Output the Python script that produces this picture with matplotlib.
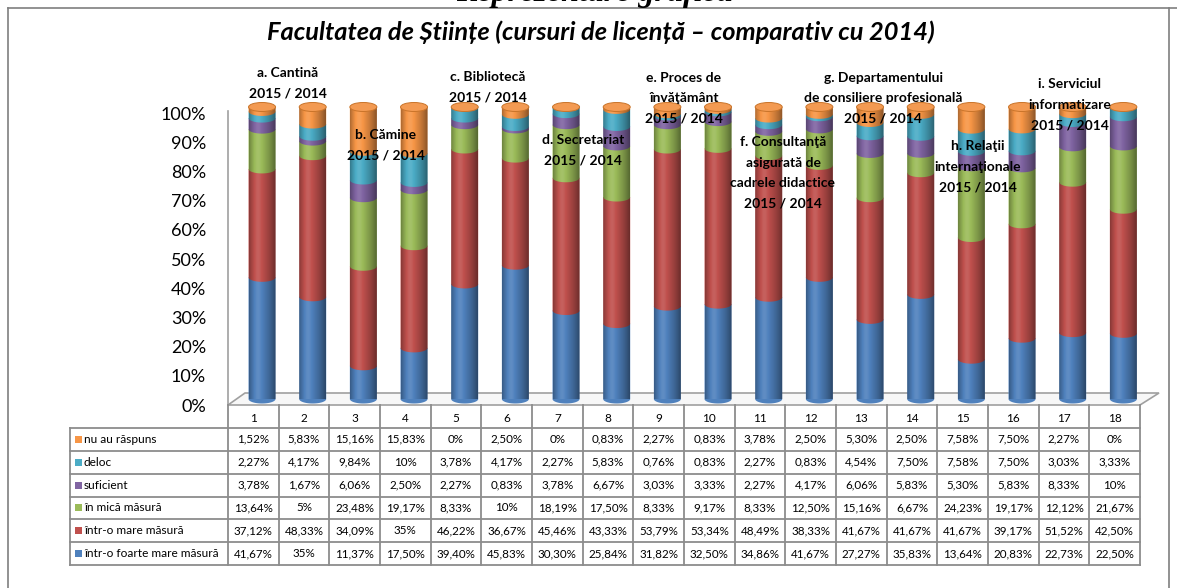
import numpy as np
import matplotlib
matplotlib.use("Agg")
import matplotlib.pyplot as plt
from matplotlib.patches import Polygon, Ellipse, Rectangle
from matplotlib.lines import Line2D
from matplotlib.transforms import ScaledTranslation

plt.rcParams['font.family'] = ['Lato', 'DejaVu Sans']

# ---------------- data ----------------
columns = [str(i) for i in range(1, 19)]
series_labels = ["nu au răspuns", "deloc", "suficient", "în mică măsură",
                 "într-o mare măsură", "într-o foarte mare măsură"]
nu_au_raspuns = [1.52, 5.83, 15.16, 15.83, 0, 2.50, 0, 0.83, 2.27, 0.83, 3.78, 2.50, 5.30, 2.50, 7.58, 7.50, 2.27, 0]
deloc = [2.27, 4.17, 9.84, 10, 3.78, 4.17, 2.27, 5.83, 0.76, 0.83, 2.27, 0.83, 4.54, 7.50, 7.58, 7.50, 3.03, 3.33]
suficient = [3.78, 1.67, 6.06, 2.50, 2.27, 0.83, 3.78, 6.67, 3.03, 3.33, 2.27, 4.17, 6.06, 5.83, 5.30, 5.83, 8.33, 10]
in_mica_masura = [13.64, 5, 23.48, 19.17, 8.33, 10, 18.19, 17.50, 8.33, 9.17, 8.33, 12.50, 15.16, 6.67, 24.23, 19.17, 12.12, 21.67]
intr_o_mare_masura = [37.12, 48.33, 34.09, 35, 46.22, 36.67, 45.46, 43.33, 53.79, 53.34, 48.49, 38.33, 41.67, 41.67, 41.67, 39.17, 51.52, 42.50]
intr_o_foarte_mare = [41.67, 35, 11.37, 17.50, 39.40, 45.83, 30.30, 25.84, 31.82, 32.50, 34.86, 41.67, 27.27, 35.83, 13.64, 20.83, 22.73, 22.50]
ytick_values = [0, 10, 20, 30, 40, 50, 60, 70, 80, 90, 100]

title = "Facultatea de Științe (cursuri de licență – comparativ cu 2014)"
page_heading = "Reprezentare grafică"
annotations = [
    ("a. Cantină\n2015 / 2014", 288, 83),
    ("b. Cămine\n2015 / 2014", 386, 145),
    ("c. Bibliotecă\n2015 / 2014", 488, 87),
    ("d. Secretariat\n2015 / 2014", 583, 150),
    ("e. Proces de\nînvăţământ\n2015 / 2014", 684, 98),
    ("f. Consultanţă\nasigurată de\ncadrele didactice\n2015 / 2014", 783, 173),
    ("g. Departamentului\nde consiliere profesională\n2015 / 2014", 883, 98),
    ("h. Relaţii\ninternaţionale\n2015 / 2014", 978, 167),
    ("i. Serviciul\ninformatizare\n2015 / 2014", 1070, 105),
]

# stacking bottom -> top
stack = [intr_o_foarte_mare, intr_o_mare_masura, in_mica_masura, suficient, deloc, nu_au_raspuns]
colors = ['#4F81BD', '#C0504D', '#9BBB59', '#8064A2', '#4BACC6', '#F79646']
# table rows top -> bottom
table_rows = [nu_au_raspuns, deloc, suficient, in_mica_masura, intr_o_mare_masura, intr_o_foarte_mare]
row_colors = ['#F79646', '#4BACC6', '#8064A2', '#9BBB59', '#C0504D', '#4F81BD']

W, H = 1177, 588
fig = plt.figure(figsize=(W / 100, H / 100), dpi=100)


def fx(px):
    return px / W


def fy(py):
    return 1 - py / H


GRID = '#8c8c8c'

# ---------------- frame ----------------
fig.add_artist(Line2D([fx(8), fx(1177)], [fy(8), fy(8)], color='#7f7f7f', lw=1.2))
fig.add_artist(Line2D([fx(8), fx(8)], [fy(8), fy(588)], color='#7f7f7f', lw=1.2))
fig.add_artist(Line2D([fx(1169), fx(1169)], [fy(8), fy(588)], color='#7f7f7f', lw=1.2))
fig.text(fx(594), fy(0.5), page_heading, family='Liberation Serif', weight='bold',
         style='italic', fontsize=23, ha='center', va='baseline')
fig.text(fx(601), fy(32), title, fontsize=18.3, weight='bold', style='italic',
         ha='center', va='center')

# ---------------- axes ----------------
x_left, x_right = 228, 1140
y0_px, y100_px = 399, 107
ax = fig.add_axes([fx(x_left), fy(y0_px), (x_right - x_left) / W, (y0_px - y100_px) / H])
ax.patch.set_visible(False)
for s in ax.spines.values():
    s.set_visible(False)
ax.set_xticks([])

n = len(columns)
px_per_unit_y = (y0_px - y100_px) / 100.0
eh = 9 / px_per_unit_y           # ellipse height (data units)
bw = 27 / ((x_right - x_left) / n)  # bar width in data units
xoff = 0.5 + 8.7 / ((x_right - x_left) / n)

# gradient for the cylinders
t = np.linspace(0, 1, 80)
dark = np.where(t < 0.35, 0.30 * ((0.35 - t) / 0.35) ** 2, 0.45 * ((t - 0.35) / 0.65) ** 1.6)
high = 0.10 * np.exp(-((t - 0.33) / 0.14) ** 2)
val = high - dark
grad = np.zeros((1, len(t), 4))
grad[0, :, :3] = np.where(val[:, None] > 0, 1.0, 0.0)
grad[0, :, 3] = np.abs(val)

for i in range(n):
    xc = i + xoff
    x0, x1 = xc - bw / 2, xc + bw / 2
    bottom = 0.0
    z = 2
    for k, ser in enumerate(stack):
        v = ser[i]
        top = bottom + v
        th = np.linspace(0, -np.pi, 40)
        arc = np.column_stack([xc + bw / 2 * np.cos(th), bottom + eh / 2 * np.sin(th)])
        pts = np.vstack([[x0, top], [x1, top], arc])
        ax.add_patch(Polygon(pts, closed=True, facecolor=colors[k], edgecolor='none',
                             zorder=z, clip_on=False))
        z += 0.01
        bottom = top
    # shading
    th = np.linspace(0, -np.pi, 40)
    arc = np.column_stack([xc + bw / 2 * np.cos(th), 0 + eh / 2 * np.sin(th)])
    outline = Polygon(np.vstack([[x0, 100], [x1, 100], arc]), closed=True,
                      transform=ax.transData, facecolor='none', edgecolor='none')
    ax.add_patch(outline)
    im = ax.imshow(grad, extent=(x0, x1, -eh / 2, 100), aspect='auto',
                   interpolation='bilinear', zorder=2.5, clip_on=True)
    im.set_clip_path(outline)
    # top cap
    ax.add_patch(Ellipse((xc, 100), bw, eh, facecolor='#F39A52', edgecolor='#C9742A',
                         lw=0.7, zorder=2.6, clip_on=False))

ax.set_xlim(0, n)
ax.set_ylim(0, 100)
ax.set_yticks(ytick_values)
ax.set_yticklabels([f"{v}%" for v in ytick_values], fontsize=13)
ax.tick_params(axis='y', length=0, pad=15.8)
off = ScaledTranslation(0, -6 / 100, fig.dpi_scale_trans)
for lab in ax.get_yticklabels():
    lab.set_transform(lab.get_transform() + off)

# floor + vertical axis line
floor = Polygon([(fx(228), fy(405)), (fx(245), fy(393)), (fx(1159), fy(393)), (fx(1140), fy(405))],
                closed=True, transform=fig.transFigure, facecolor='#f7f7f7',
                edgecolor='#a0a0a0', lw=1.2, zorder=-1)
fig.add_artist(floor)
fig.add_artist(Line2D([fx(228), fx(228)], [fy(111), fy(405)], color='#a0a0a0', lw=1.2, zorder=-1))

# ---------------- table ----------------
col_w = (x_right - x_left) / n
row_top = 428
row_h = (565 - 428) / 6
leg_left = 70
for k in range(n + 1):
    xx = x_left + k * col_w
    fig.add_artist(Line2D([fx(xx), fx(xx)], [fy(405), fy(565)], color=GRID, lw=1.3))
fig.add_artist(Line2D([fx(leg_left), fx(leg_left)], [fy(row_top), fy(565)], color=GRID, lw=1.3))
for r in range(7):
    yy = row_top + r * row_h
    fig.add_artist(Line2D([fx(leg_left), fx(x_right)], [fy(yy), fy(yy)], color=GRID, lw=1.3))

for k, c in enumerate(columns):
    fig.text(fx(x_left + (k + 0.5) * col_w), fy(418), c, fontsize=8.5, ha='center', va='center')


def fmt(v):
    if float(v).is_integer():
        return f"{int(v)}%"
    return f"{v:.2f}".replace('.', ',') + '%'


for r, (lab, ser, colr) in enumerate(zip(series_labels, table_rows, row_colors)):
    yc = row_top + (r + 0.5) * row_h
    fig.add_artist(Rectangle((fx(75), fy(yc + 3.5)), 7 / W, 7 / H, transform=fig.transFigure,
                             facecolor=colr, edgecolor='none'))
    fig.text(fx(84), fy(yc), lab, fontsize=8.6, ha='left', va='center')
    for k, v in enumerate(ser):
        fig.text(fx(x_left + (k + 0.5) * col_w), fy(yc), fmt(v), fontsize=8.4,
                 ha='center', va='center')

# ---------------- annotations ----------------
for txt, xp, yp in annotations:
    fig.text(fx(xp), fy(yp), txt, fontsize=10, weight='bold', ha='center', va='center',
             linespacing=1.85, zorder=5)

fig.savefig("out.png", dpi=100)
